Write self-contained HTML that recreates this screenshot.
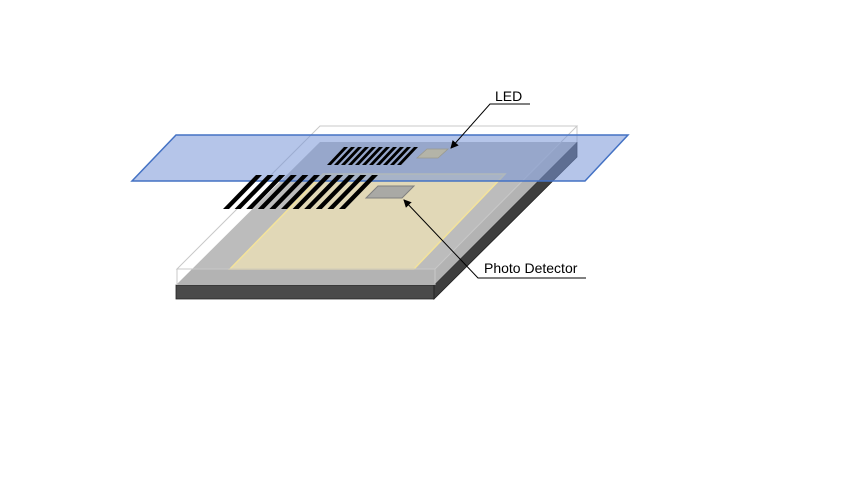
<!DOCTYPE html>
<html><head><meta charset="utf-8"><style>html,body{margin:0;padding:0;background:#fff}svg{display:block}</style></head>
<body>
<svg width="853" height="480" viewBox="0 0 853 480" xmlns="http://www.w3.org/2000/svg">
<defs>
<marker id="ar" markerWidth="8" markerHeight="8" refX="7" refY="4" orient="auto" markerUnits="userSpaceOnUse">
<path d="M0,0 L8,4 L0,8 z" fill="#000"/></marker>
</defs>
<rect width="853" height="480" fill="#fff"/>
<polygon points="176,285 434,285 434,299 176,299" fill="#4a4a4a" stroke="#222" stroke-width="0.8"/>
<polygon points="434,285 577,142 577,157 434,299" fill="#3e3e3e" stroke="#222" stroke-width="0.8"/>
<polygon points="176,285 434,285 577,142 320,142" fill="#b3b3b3"/>
<polygon points="230,269 414,269 505,174 323,174" fill="#ddd3ae" stroke="#f3e08c" stroke-width="1.5"/>
<polygon points="177,269 435,269 577,126 320,126" fill="rgba(255,255,255,0.12)" stroke="#c8c8c8" stroke-width="1"/>
<line x1="177" y1="269" x2="177" y2="285" stroke="#c8c8c8"/>
<line x1="435" y1="269" x2="435" y2="285" stroke="#c8c8c8"/>
<line x1="577" y1="126" x2="577" y2="142" stroke="#c8c8c8"/>
<polygon points="366,198 402,198 414,186 378,186" fill="#a9a9a5" stroke="#7f7f7f" stroke-width="1"/>
<polygon points="132,181 585,181 628,135 176,135" fill="rgba(120,150,215,0.55)" stroke="#4472c4" stroke-width="1.5"/>
<g fill="#000">
<polygon points="223,209 229,209 262,175 256,175"/>
<polygon points="234.6,209 240.6,209 273.6,175 267.6,175"/>
<polygon points="246.2,209 252.2,209 285.2,175 279.2,175"/>
<polygon points="257.8,209 263.8,209 296.8,175 290.8,175"/>
<polygon points="269.4,209 275.4,209 308.4,175 302.4,175"/>
<polygon points="281,209 287,209 320,175 314,175"/>
<polygon points="292.6,209 298.6,209 331.6,175 325.6,175"/>
<polygon points="304.2,209 310.2,209 343.2,175 337.2,175"/>
<polygon points="315.8,209 321.8,209 354.8,175 348.8,175"/>
<polygon points="327.4,209 333.4,209 366.4,175 360.4,175"/>
<polygon points="339,209 345,209 378,175 372,175"/>
</g>
<g fill="#000">
<polygon points="327,165 331,165 348,147 344,147"/>
<polygon points="334,165 338,165 355,147 351,147"/>
<polygon points="341,165 345,165 362,147 358,147"/>
<polygon points="348,165 352,165 369,147 365,147"/>
<polygon points="355,165 359,165 376,147 372,147"/>
<polygon points="362,165 366,165 383,147 379,147"/>
<polygon points="369,165 373,165 390,147 386,147"/>
<polygon points="376,165 380,165 397,147 393,147"/>
<polygon points="383,165 387,165 404,147 400,147"/>
<polygon points="390,165 394,165 411,147 407,147"/>
<polygon points="397,165 401,165 418,147 414,147"/>
</g>
<polygon points="417,158 438,158 448,149 427,149" fill="#b4b4a8" stroke="#9a9a90" stroke-width="0.8"/>
<polyline points="530,104 490,104 451,148" fill="none" stroke="#000" stroke-width="1" marker-end="url(#ar)"/>
<text x="495" y="101" font-family="Liberation Sans, sans-serif" font-size="14">LED</text>
<polyline points="586,278 478,278 404,200" fill="none" stroke="#000" stroke-width="1" marker-end="url(#ar)"/>
<text x="484" y="273" font-family="Liberation Sans, sans-serif" font-size="14">Photo Detector</text>
</svg>
</body></html>
